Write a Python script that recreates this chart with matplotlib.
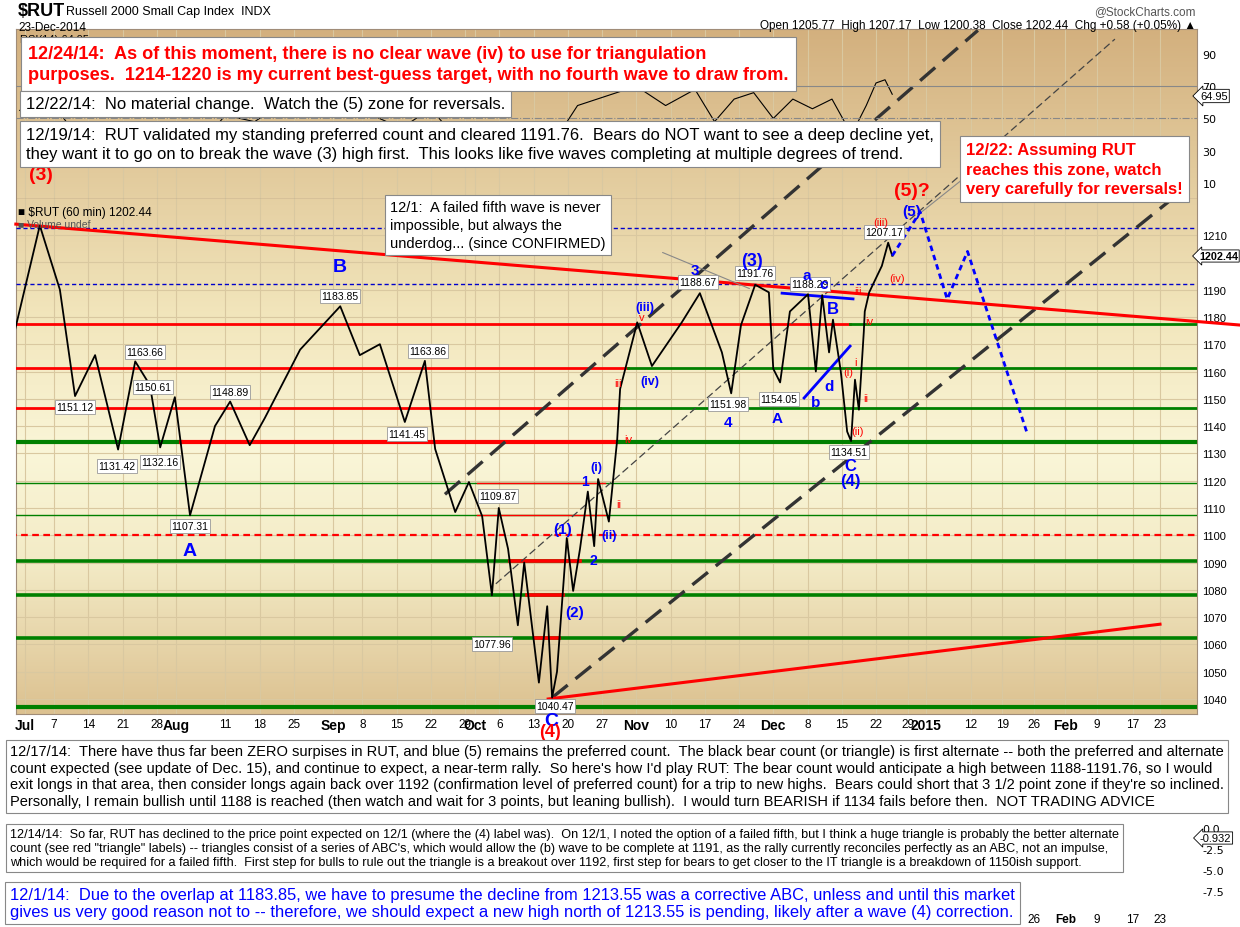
#!/usr/bin/env python3
"""$RUT 60-min Elliott wave chart (StockCharts style)."""

import numpy as np
import matplotlib
matplotlib.use("Agg")
import matplotlib.pyplot as plt
from matplotlib.colors import LinearSegmentedColormap

W, H = 1240, 928
NARROW = ["Liberation Sans Narrow", "Liberation Sans", "DejaVu Sans"]
SANS = ["Liberation Sans", "DejaVu Sans"]

# ---- data: day = calendar days since 30-Jun-2014 ----
price_day = [-1.0, 4.1, 8.2, 11.3, 15.4, 20.1, 23.6, 26.6, 28.7, 31.7, 34.8, 39.9, 43.0, 47.0, 50.1,
             57.3, 65.5, 69.5, 73.6, 78.7, 82.8, 84.9, 89.0, 91.8, 94.5, 96.5, 97.9, 99.8, 101.8,
             103.1, 106.1, 107.8, 108.8, 109.8, 111.8, 113.1, 114.5, 116.1, 117.4, 118.2, 120.4,
             122.1, 122.7, 126.2, 129.2, 135.3, 139.0, 143.5, 145.4, 147.4, 150.3, 153.1, 154.0,
             155.4, 157.4, 161.1, 162.7, 164.0, 165.4, 166.2, 167.8, 169.1, 169.9, 170.7, 171.5,
             172.5, 172.7, 173.6, 176.3, 177.7, 178.6]
price_val = [1175, 1213.5, 1190, 1151, 1166, 1131.4, 1163.7, 1155, 1132.2, 1150.6, 1107.3, 1140, 1149,
             1133, 1143, 1168, 1183.9, 1166, 1170, 1141.5, 1163.9, 1131.6, 1108.5, 1119.5, 1107, 1078,
             1110, 1095, 1067, 1090, 1046, 1074, 1040.5, 1050, 1099, 1079.6, 1095, 1116, 1096, 1120.6,
             1105, 1135, 1153.6, 1178, 1162, 1178, 1188.7, 1167, 1152, 1177, 1191.8, 1189, 1161, 1156,
             1182, 1188.3, 1160, 1188, 1167, 1179, 1160, 1138, 1134.5, 1157, 1146, 1174.5, 1182, 1189,
             1198.7, 1207.2, 1202.4]

fcst_day = [178.6, 184.8, 190.8, 195.3, 208.6]
fcst_val = [1202.4, 1218.5, 1186.5, 1204, 1137]

rsi_day = [0, 6, 12, 18, 24, 30, 36, 42, 48, 54, 60, 66, 72, 78, 84, 90, 96, 102, 108, 114, 120,
           126, 132, 138, 142, 146, 150, 154, 158, 162, 166, 170, 173, 175, 177, 178.6]
rsi_val = [55, 62, 38, 45, 35, 48, 30, 52, 48, 60, 58, 66, 52, 44, 56, 35, 40, 36, 30, 58, 64,
           70, 58, 68, 48, 62, 66, 50, 62, 56, 62, 40, 58, 72, 74, 65]

# channels / trend lines: (day0, price0, day1, price1)
channel_thick = [(86.9, 1115, 197.6, 1285), (108.8, 1040.5, 243.5, 1227)]
channel_thin = [(97.3, 1082.2, 228, 1281.8)]
red_trend = [(-0.8, 1214, 255.9, 1177), (108, 1040, 238, 1067.4)]
blue_lines = [(155.8, 1188.7, 170.3, 1186.6), (160.3, 1150.3, 169.7, 1169.3)]

# horizontal levels: (price, [(day0, day1, colour)], width, style)
levels = [
    (1177.4, [(-2, 169.7, "red"), (169.7, 260, "green")], 2.0, "-"),
    (1161.3, [(-2, 124.3, "red"), (124.3, 260, "green")], 2.0, "-"),
    (1146.6, [(-2, 122.7, "red"), (122.7, 260, "green")], 2.0, "-"),
    (1134.1, [(-2, 33.0, "green"), (33.0, 122.3, "red"), (122.3, 260, "green")], 3.0, "-"),
    (1119.0, [(-2, 260, "green"), (93.5, 119.6, "red")], 1.0, "-"),
    (1107.4, [(-2, 260, "green"), (93.5, 119.6, "red")], 1.0, "-"),
    (1100.0, [(-2, 260, "red")], 1.6, (0, (3, 2))),
    (1090.5, [(-2, 260, "green"), (100.2, 114.5, "red")], 2.6, "-"),
    (1078.0, [(-2, 260, "green"), (103.7, 111.0, "red")], 2.6, "-"),
    (1062.3, [(-2, 260, "green"), (105.3, 110.2, "red")], 2.6, "-"),
    (1037.0, [(-2, 260, "green")], 3.0, "-"),
]
blue_dashed_levels = [1212.5, 1192.0]

tick_day = [1, 7, 14, 21, 28, 32, 42, 49, 56, 64, 70, 77, 84, 91, 93, 98, 105, 112, 119, 126, 133,
            140, 147, 154, 161, 168, 175, 182, 186, 196, 203, 210, 217, 224, 232, 238]
tick_lab = ["Jul", "7", "14", "21", "28", "Aug", "11", "18", "25", "Sep", "8", "15", "22", "29",
            "Oct", "6", "13", "20", "27", "Nov", "10", "17", "24", "Dec", "8", "15", "22", "29",
            "2015", "12", "19", "26", "Feb", "9", "17", "23"]
month_lab = {"Jul", "Aug", "Sep", "Oct", "Nov", "Dec", "2015", "Feb"}
lower_tick_day = [210, 217, 224, 232, 238]
lower_tick_lab = ["26", "Feb", "9", "17", "23"]
price_ticks = [1040, 1050, 1060, 1070, 1080, 1090, 1100, 1110, 1120, 1130, 1140, 1150, 1160,
               1170, 1180, 1190, 1210]

price_boxes = [(75, 408, "1151.12"), (145, 353, "1163.66"), (153, 388, "1150.61"), (117, 467, "1131.42"),
               (160, 463, "1132.16"), (230, 393, "1148.89"), (190, 527, "1107.31"), (340, 297, "1183.85"),
               (428, 352, "1163.86"), (407, 435, "1141.45"), (498, 497, "1109.87"), (492, 645, "1077.96"),
               (555, 707, "1040.47"), (698, 283, "1188.67"), (755, 274, "1191.76"), (810, 285, "1188.29"),
               (728, 405, "1151.98"), (779, 400, "1154.05"), (849, 453, "1134.51"), (884, 233, "1207.17")]

blue_labels = [(340, 268, "B", 14), (190, 552, "A", 14), (551, 721, "C", 14), (850, 467, "C", 12),
               (850, 482, "(4)", 12), (695, 271, "3", 11), (752, 261, "(3)", 13), (807, 276, "a", 11),
               (824, 285, "c", 11), (833, 310, "B", 12), (816, 403, "b", 11), (829, 387, "d", 11),
               (728, 423, "4", 11), (777, 419, "A", 11), (645, 308, "(iii)", 9), (650, 382, "(iv)", 9),
               (596, 468, "(i)", 9), (585, 482, "1", 10), (563, 530, "(1)", 11), (609, 536, "(ii)", 9),
               (593, 561, "2", 10), (575, 613, "(2)", 11), (912, 212, "(5)", 11)]
red_labels = [(41, 175, "(3)", 14, "bold"), (912, 192, "(5)?", 14, "bold"), (881, 223, "(iii)", 8, "normal"),
              (897, 279, "(iv)", 8, "normal"), (858, 292, "iii", 8, "normal"), (869, 322, "iv", 8, "normal"),
              (848, 373, "(i)", 8, "normal"), (866, 399, "ii", 8, "normal"), (857, 432, "(ii)", 8, "normal"),
              (618, 384, "iii", 8, "normal"), (642, 318, "v", 8, "normal"), (628, 440, "iv", 8, "normal"),
              (619, 505, "ii", 8, "normal"), (855, 363, "i", 8, "normal"), (550, 733, "(4)", 13, "bold")]


def fwd(d):
    d = np.asarray(d, dtype=float)
    return np.where(d <= 175, 54 + (d - 7) * 4.893, 876 + (d - 175) * 4.508)


def inv(p):
    p = np.asarray(p, dtype=float)
    return np.where(p <= 876, 7 + (p - 54) / 4.893, 175 + (p - 876) / 4.508)


def rect(x0, y0, x1, y1):
    return [x0 / W, 1 - y1 / H, (x1 - x0) / W, (y1 - y0) / H]


def ftext(x, y, s, **kw):
    fig.text(x / W, 1 - y / H, s, **kw)


fig = plt.figure(figsize=(W / 100, H / 100), dpi=100)
fig.patch.set_facecolor("white")

ax = fig.add_axes(rect(16, 30, 1197, 715))
ax.set_xscale("function", functions=(fwd, inv))
ax.set_xlim(float(inv(16)), float(inv(1197)))
ax.set_ylim(1034.5, 1285.5)

bg = LinearSegmentedColormap.from_list("bg", [(0, "#d3b07e"), (0.42, "#f2e6bc"), (0.62, "#faf6d8"),
                                              (0.78, "#f3ebc6"), (1.0, "#dcc190")])
ax.imshow(np.linspace(0, 1, 256)[:, None], aspect="auto", cmap=bg, extent=(*ax.get_xlim(), 1034.5, 1285.5),
          origin="upper", zorder=0)
ax.set_xlim(float(inv(16)), float(inv(1197)))

for d in tick_day:
    ax.axvline(d, color="#d9c8a0", lw=0.8, zorder=1)
for p in range(1040, 1220, 10):
    ax.axhline(p, color="#d9c8a0", lw=0.8, zorder=1)

for price, segs, lw, ls in levels:
    for d0, d1, c in segs:
        ax.plot([d0, d1], [price, price], color="#008000" if c == "green" else "#ff0000", lw=lw, ls=ls, zorder=3)
for p in blue_dashed_levels:
    ax.axhline(p, color="#0000cc", lw=1.0, ls=(0, (3, 2)), zorder=3)

for d0, p0, d1, p1 in channel_thick:
    ax.plot([d0, d1], [p0, p1], color="#333333", lw=2.4, ls=(0, (6, 3)), zorder=4)
for d0, p0, d1, p1 in channel_thin:
    ax.plot([d0, d1], [p0, p1], color="#444444", lw=0.9, ls=(0, (6, 3)), zorder=4)
for d0, p0, d1, p1 in red_trend:
    ax.plot([d0, d1], [p0, p1], color="#ff0000", lw=2.2, zorder=4, clip_on=False)
for d0, p0, d1, p1 in blue_lines:
    ax.plot([d0, d1], [p0, p1], color="#0000ff", lw=2.0, zorder=4)

ax.plot(price_day, price_val, color="black", lw=1.3, zorder=5)
ax.plot(fcst_day, fcst_val, color="#0000ff", lw=2.0, ls=(0, (2, 1.5)), zorder=5)

ax.set_yticks(price_ticks)
ax.yaxis.tick_right()
ax.tick_params(axis="y", labelsize=8, length=0, pad=4)
for lab in ax.get_yticklabels():
    lab.set_fontfamily(NARROW)
ax.set_xticks(tick_day)
ax.set_xticklabels(tick_lab)
ax.tick_params(axis="x", length=0, pad=3)
for lab, t in zip(ax.get_xticklabels(), tick_lab):
    lab.set_fontfamily(NARROW)
    lab.set_fontsize(10 if t in month_lab else 8.5)
    if t in month_lab:
        lab.set_fontweight("bold")
for s in ax.spines.values():
    s.set_color("#a08c78")

# RSI overlay on the top part
rx = fig.add_axes(rect(16, 30, 1197, 200), sharex=ax)
rx.patch.set_alpha(0)
rx.set_ylim(0, 105.5)
rx.plot(rsi_day, rsi_val, color="black", lw=0.8, zorder=2)
rx.axhline(70, color="#888888", lw=0.8)
rx.axhline(50, color="#888888", lw=0.8, ls="-.")
rx.axhline(0.3, color="#a08c78", lw=1.0)
rx.yaxis.tick_right()
rx.set_yticks([10, 30, 50, 70, 90])
rx.tick_params(axis="y", labelsize=8, length=0, pad=4)
rx.tick_params(axis="x", labelbottom=False, length=0)
for s in rx.spines.values():
    s.set_visible(False)

# lower indicator panel (mostly covered by notes)
lx = fig.add_axes(rect(16, 822, 1197, 900))
lx.set_xscale("function", functions=(fwd, inv))
lx.set_xlim(float(inv(16)), float(inv(1197)))
lx.patch.set_alpha(0)
lx.set_ylim(-8.5, 0.8)
lx.yaxis.tick_right()
lx.set_yticks([0.0, -2.5, -5.0, -7.5])
lx.set_yticklabels(["0.0", "-2.5", "-5.0", "-7.5"])
lx.tick_params(axis="y", labelsize=8, length=0, pad=4)
lx.set_xticks(lower_tick_day)
lx.set_xticklabels(lower_tick_lab)
lx.tick_params(axis="x", length=0, labelsize=8.5, pad=10)
for lab, t in zip(lx.get_xticklabels(), lower_tick_lab):
    lab.set_fontfamily(NARROW)
    if t in month_lab:
        lab.set_fontweight("bold")
for s in lx.spines.values():
    s.set_visible(False)

# header
ftext(18, 12, "$RUT", fontsize=13, fontweight="bold", family=NARROW, va="center")
ftext(66, 12, "Russell 2000 Small Cap Index  INDX", fontsize=9, family=NARROW, va="center")
ftext(18, 28, "23-Dec-2014", fontsize=8.5, family=NARROW, va="center")
ftext(1196, 12, "@StockCharts.com", fontsize=8.5, family=NARROW, va="center", ha="right", color="#555555")
ftext(1196, 26, "Open 1205.77  High 1207.17  Low 1200.38  Close 1202.44  Chg +0.58 (+0.05%) \u25b2",
      fontsize=8.5, family=NARROW, va="center", ha="right")
ftext(20, 40, "RSI(14) 64.95", fontsize=8, family=NARROW, va="center")
ftext(1200, 97, "64.95", fontsize=8, family=NARROW, va="center",
      bbox=dict(boxstyle="larrow,pad=0.15", fc="white", ec="black", lw=0.6))
ftext(1199, 257, "1202.44", fontsize=7.8, fontweight="bold", family=NARROW, va="center",
      bbox=dict(boxstyle="larrow,pad=0.1", fc="white", ec="black", lw=0.6))
ftext(1200, 839, "-0.932", fontsize=8, family=NARROW, va="center",
      bbox=dict(boxstyle="larrow,pad=0.1", fc="white", ec="black", lw=0.6))
ftext(18, 213, "\u25a0 $RUT (60 min) 1202.44", fontsize=8.5, family=NARROW, va="center")
ftext(18, 225, "\u25a0 Volume undef", fontsize=7.5, family=NARROW, va="center", color="#555555")

for x, y, s in price_boxes:
    ftext(x, y, s, fontsize=7.5, family=NARROW, ha="center", va="center",
          bbox=dict(boxstyle="square,pad=0.15", fc="white", ec="#999999", lw=0.6))
for x, y, s, fs in blue_labels:
    ftext(x, y, s, fontsize=fs, color="#0000ff", fontweight="bold", family=NARROW, ha="center", va="center")
for x, y, s, fs, fw in red_labels:
    ftext(x, y, s, fontsize=fs, color="#ff0000", fontweight=fw, family=NARROW, ha="center", va="center")

# note boxes
box = dict(boxstyle="square,pad=0.35", fc="white", ec="#888888", lw=0.8)
ftext(28, 65, "12/24/14:  As of this moment, there is no clear wave (iv) to use for triangulation\n"
      "purposes.  1214-1220 is my current best-guess target, with no fourth wave to draw from.",
      fontsize=13.1, color="#ff0000", fontweight="bold", family=NARROW, va="center", linespacing=1.35,
      bbox=dict(boxstyle="square,pad=0.4", fc="white", ec="#888888", lw=0.8))
ftext(26, 105, "12/22/14:  No material change.  Watch the (5) zone for reversals.",
      fontsize=12, family=NARROW, va="center", bbox=box)
ftext(26, 145, "12/19/14:  RUT validated my standing preferred count and cleared 1191.76.  Bears do NOT want to see a deep decline yet,\n"
      "they want it to go on to break the wave (3) high first.  This looks like five waves completing at multiple degrees of trend.",
      fontsize=12, family=NARROW, va="center", linespacing=1.3, bbox=box)
ftext(966, 170, "12/22: Assuming RUT\nreaches this zone, watch\nvery carefully for reversals!",
      fontsize=12, color="#ff0000", fontweight="bold", family=NARROW, va="center", linespacing=1.35, bbox=box)
ax.annotate("", xy=(float(inv(920)), 1218), xytext=(float(inv(968)), 1232),
            arrowprops=dict(arrowstyle="-", color="#888888", lw=0.8), zorder=6)
ftext(390, 226, "12/1:  A failed fifth wave is never\nimpossible, but always the\nunderdog... (since CONFIRMED)",
      fontsize=10.5, family=NARROW, va="center", linespacing=1.35, bbox=box)
ax.annotate("", xy=(float(inv(752)), 1190), xytext=(float(inv(660)), 1204),
            arrowprops=dict(arrowstyle="-", color="#888888", lw=0.8), zorder=6)

ftext(10, 777,
      "12/17/14:  There have thus far been ZERO surpises in RUT, and blue (5) remains the preferred count.  The black bear count (or triangle) is first alternate -- both the preferred and alternate\n"
      "count expected (see update of Dec. 15), and continue to expect, a near-term rally.  So here's how I'd play RUT: The bear count would anticipate a high between 1188-1191.76, so I would\n"
      "exit longs in that area, then consider longs again back over 1192 (confirmation level of preferred count) for a trip to new highs.  Bears could short that 3 1/2 point zone if they're so inclined.\n"
      "Personally, I remain bullish until 1188 is reached (then watch and wait for 3 points, but leaning bullish).  I would turn BEARISH if 1134 fails before then.  NOT TRADING ADVICE",
      fontsize=10.5, family=SANS, va="center", linespacing=1.25, bbox=dict(boxstyle="square,pad=0.3", fc="white", ec="#888888", lw=0.8))
ftext(10, 849,
      "12/14/14:  So far, RUT has declined to the price point expected on 12/1 (where the (4) label was).  On 12/1, I noted the option of a failed fifth, but I think a huge triangle is probably the better alternate\n"
      "count (see red \"triangle\" labels) -- triangles consist of a series of ABC's, which would allow the (b) wave to be complete at 1191, as the rally currently reconciles perfectly as an ABC, not an impulse,\n"
      "which would be required for a failed fifth.  First step for bulls to rule out the triangle is a breakout over 1192, first step for bears to get closer to the IT triangle is a breakdown of 1150ish support.",
      fontsize=9.1, family=SANS, va="center", linespacing=1.25, bbox=dict(boxstyle="square,pad=0.3", fc="white", ec="#888888", lw=0.8))
ftext(10, 904,
      "12/1/14:  Due to the overlap at 1183.85, we have to presume the decline from 1213.55 was a corrective ABC, unless and until this market\n"
      "gives us very good reason not to -- therefore, we should expect a new high north of 1213.55 is pending, likely after a wave (4) correction.",
      fontsize=11.9, family=SANS, color="#0000ff", va="center", linespacing=1.2,
      bbox=dict(boxstyle="square,pad=0.3", fc="white", ec="#888888", lw=0.8))

fig.savefig("out.png", dpi=100)
